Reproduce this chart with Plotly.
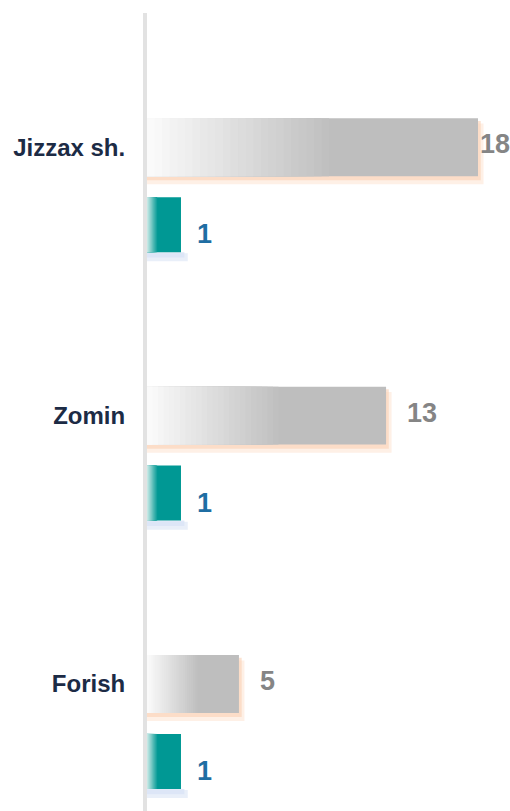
import plotly.graph_objects as go

# ---- data ----
categories = ["Jizzax sh.", "Zomin", "Forish"]
series_gray = [18, 13, 5]
series_teal = [1, 1, 1]

N_STEPS = 24


def lerp(c1, c2, t):
    return "rgb(%d,%d,%d)" % tuple(round(a + (b - a) * t) for a, b in zip(c1, c2))


fig = go.Figure()

GRAY_OFF, GRAY_W = -0.108, 0.216
TEAL_OFF, TEAL_W = 0.186, 0.205
X_MAX = 19.74
X2_MAX = 10.68
FIG_W, FIG_H = 510, 811
M_L, M_T = 147, 13
PLOT_W = FIG_W - M_L
VAL_SIZE = 27

# shadows (gray bars, peach glow)
fig.add_trace(go.Bar(
    y=categories, x=[v + 0.3 for v in series_gray], orientation="h",
    offset=GRAY_OFF + 0.02, width=GRAY_W + 0.01,
    marker=dict(color="rgba(253,228,210,0.55)", line=dict(width=0)),
    hoverinfo="skip", xaxis="x", yaxis="y"))
fig.add_trace(go.Bar(
    y=categories, x=[v + 0.15 for v in series_gray], orientation="h",
    offset=GRAY_OFF + 0.01, width=GRAY_W + 0.005,
    marker=dict(color="rgba(250,208,180,0.6)", line=dict(width=0)),
    hoverinfo="skip", xaxis="x", yaxis="y"))

# soft shadow under teal bars
fig.add_trace(go.Bar(
    y=categories, x=[v * 1.2 for v in series_teal], orientation="h",
    offset=TEAL_OFF + TEAL_W + 0.004, width=0.03,
    marker=dict(color="rgba(228,235,248,0.8)", line=dict(width=0)),
    hoverinfo="skip", xaxis="x2", yaxis="y"))
fig.add_trace(go.Bar(
    y=categories, x=[v * 1.1 for v in series_teal], orientation="h",
    offset=TEAL_OFF + TEAL_W, width=0.02,
    marker=dict(color="rgba(218,228,246,0.8)", line=dict(width=0)),
    hoverinfo="skip", xaxis="x2", yaxis="y"))

# gray base bar
fig.add_trace(go.Bar(
    y=categories, x=series_gray, orientation="h",
    offset=GRAY_OFF, width=GRAY_W,
    marker=dict(color="rgb(190,190,190)", line=dict(width=0)),
    hoverinfo="skip", xaxis="x", yaxis="y"))

# gray gradient overlay
g_light, g_dark = (250, 250, 250), (190, 190, 190)
for i in range(N_STEPS):
    f = 0.55 * (1 - i / N_STEPS)
    fig.add_trace(go.Bar(
        y=categories, x=[v * f for v in series_gray], orientation="h",
        offset=GRAY_OFF, width=GRAY_W,
        marker=dict(color=lerp(g_dark, g_light, (i + 1) / N_STEPS), line=dict(width=0)),
        hoverinfo="skip", xaxis="x", yaxis="y"))

# teal base bar
fig.add_trace(go.Bar(
    y=categories, x=series_teal, orientation="h",
    offset=TEAL_OFF, width=TEAL_W,
    marker=dict(color="rgb(0,152,148)", line=dict(width=0)),
    hoverinfo="skip", xaxis="x2", yaxis="y"))

t_light, t_dark = (200, 232, 230), (0, 152, 148)
for i in range(12):
    f = 0.3 * (1 - i / 12)
    fig.add_trace(go.Bar(
        y=categories, x=[v * f for v in series_teal], orientation="h",
        offset=TEAL_OFF, width=TEAL_W,
        marker=dict(color=lerp(t_dark, t_light, (i + 1) / 12), line=dict(width=0)),
        hoverinfo="skip", xaxis="x2", yaxis="y"))

# value labels (gap of ~20px after the bar end, reduced when near the right edge)
annotations = []
for cat, v in zip(categories, series_gray):
    txt_w = 0.556 * VAL_SIZE * len(str(v)) + 2
    room = (X_MAX - v) * PLOT_W / X_MAX - txt_w
    annotations.append(dict(
        x=v, y=cat, xref="x", yref="y", text=str(v), showarrow=False,
        xanchor="left", yanchor="middle", xshift=max(0, min(19, room)), yshift=3,
        font=dict(family="Liberation Sans", size=VAL_SIZE, color="#858585", weight="bold")))
for cat, v in zip(categories, series_teal):
    annotations.append(dict(
        x=v, y=cat, xref="x2", yref="y", text=str(v), showarrow=False,
        xanchor="left", yanchor="middle", xshift=14, yshift=-87,
        font=dict(family="Liberation Sans", size=VAL_SIZE, color="#1f6ea3", weight="bold")))

fig.update_layout(
    width=FIG_W, height=FIG_H,
    margin=dict(l=M_L, r=0, t=M_T, b=0),
    paper_bgcolor="white", plot_bgcolor="white",
    barmode="overlay", showlegend=False,
    annotations=annotations,
    xaxis=dict(range=[0, X_MAX], visible=False, fixedrange=True),
    xaxis2=dict(range=[0, X2_MAX], visible=False, overlaying="x", fixedrange=True),
    yaxis=dict(
        type="category", categoryorder="array", categoryarray=categories,
        range=[2.473, -0.5], showgrid=False, zeroline=False,
        showline=True, linecolor="#e2e2e2", linewidth=4,
        ticks="", ticklabelstandoff=13, fixedrange=True,
        tickfont=dict(family="Liberation Sans", size=24, color="#1c2b45", weight="bold"),
    ),
)

fig.write_html(
    "out.html",
    config={"displayModeBar": False, "staticPlot": True},
    post_script="document.body.style.margin='0';document.body.style.overflow='hidden';",
)
